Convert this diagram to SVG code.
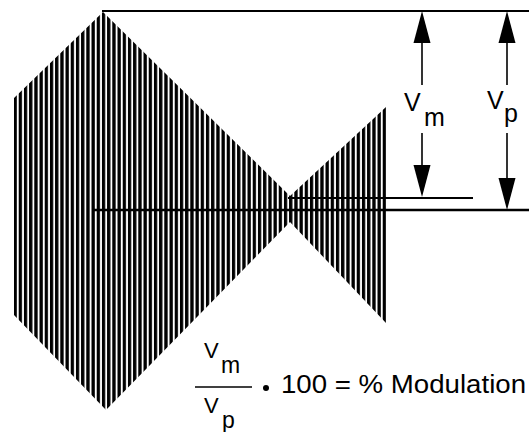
<svg xmlns="http://www.w3.org/2000/svg" width="529" height="432" viewBox="0 0 529 432">
<style>
.t{font-family:"Liberation Sans",Arial,Helvetica,sans-serif;fill:#000}
.ln{stroke:#000;fill:none}
.sh{stroke:#000;stroke-width:1.6;fill:none}
</style>
<defs>
<pattern id="stripes" patternUnits="userSpaceOnUse" x="13.5" y="0" width="5.2" height="432">
<rect x="0" y="0" width="3.3" height="432" fill="#000"/>
</pattern>
<marker id="ah" markerUnits="userSpaceOnUse" markerWidth="34" markerHeight="18" refX="0" refY="8.5" orient="auto" overflow="visible">
<path d="M0,0 L32,8.5 L0,17 Z" fill="#000"/>
</marker>
</defs>
<rect width="529" height="432" fill="#fff"/>
<g id="envelope">
<polygon points="14,98 103,12 290,196 386,107 386,323 290,222 106,410 14,315" fill="url(#stripes)"/>
</g>
<g id="connectors">
<line class="ln" x1="102" y1="11" x2="529" y2="11" stroke-width="2"/>
<line class="ln" x1="92" y1="210" x2="529" y2="210" stroke-width="2.5"/>
<line class="ln" x1="288" y1="198" x2="473" y2="198" stroke-width="2"/>
<line class="sh" x1="422" y1="85" x2="422" y2="43" marker-end="url(#ah)"/>
<line class="sh" x1="422" y1="133" x2="422" y2="165" marker-end="url(#ah)"/>
<line class="sh" x1="507" y1="85" x2="507" y2="43" marker-end="url(#ah)"/>
<line class="sh" x1="507" y1="133" x2="507" y2="178" marker-end="url(#ah)"/>
</g>
<g id="label-vm">
<text class="t" x="404" y="111" font-size="25">V</text>
<text class="t" x="424" y="126" font-size="25">m</text>
</g>
<g id="label-vp">
<text class="t" x="487" y="109" font-size="25">V</text>
<text class="t" x="504" y="122" font-size="25">p</text>
</g>
<g id="formula">
<text class="t" x="204" y="358" font-size="22">V</text>
<text class="t" x="221" y="373" font-size="23">m</text>
<line class="ln" x1="195" y1="387" x2="252" y2="387" stroke-width="1.5"/>
<text class="t" x="204" y="413" font-size="22">V</text>
<text class="t" x="222" y="428" font-size="23">p</text>
<circle cx="266" cy="388" r="3" fill="#000"/>
<text class="t" x="281" y="393" font-size="26" textLength="245" lengthAdjust="spacingAndGlyphs">100 = % Modulation</text>
</g>
</svg>
